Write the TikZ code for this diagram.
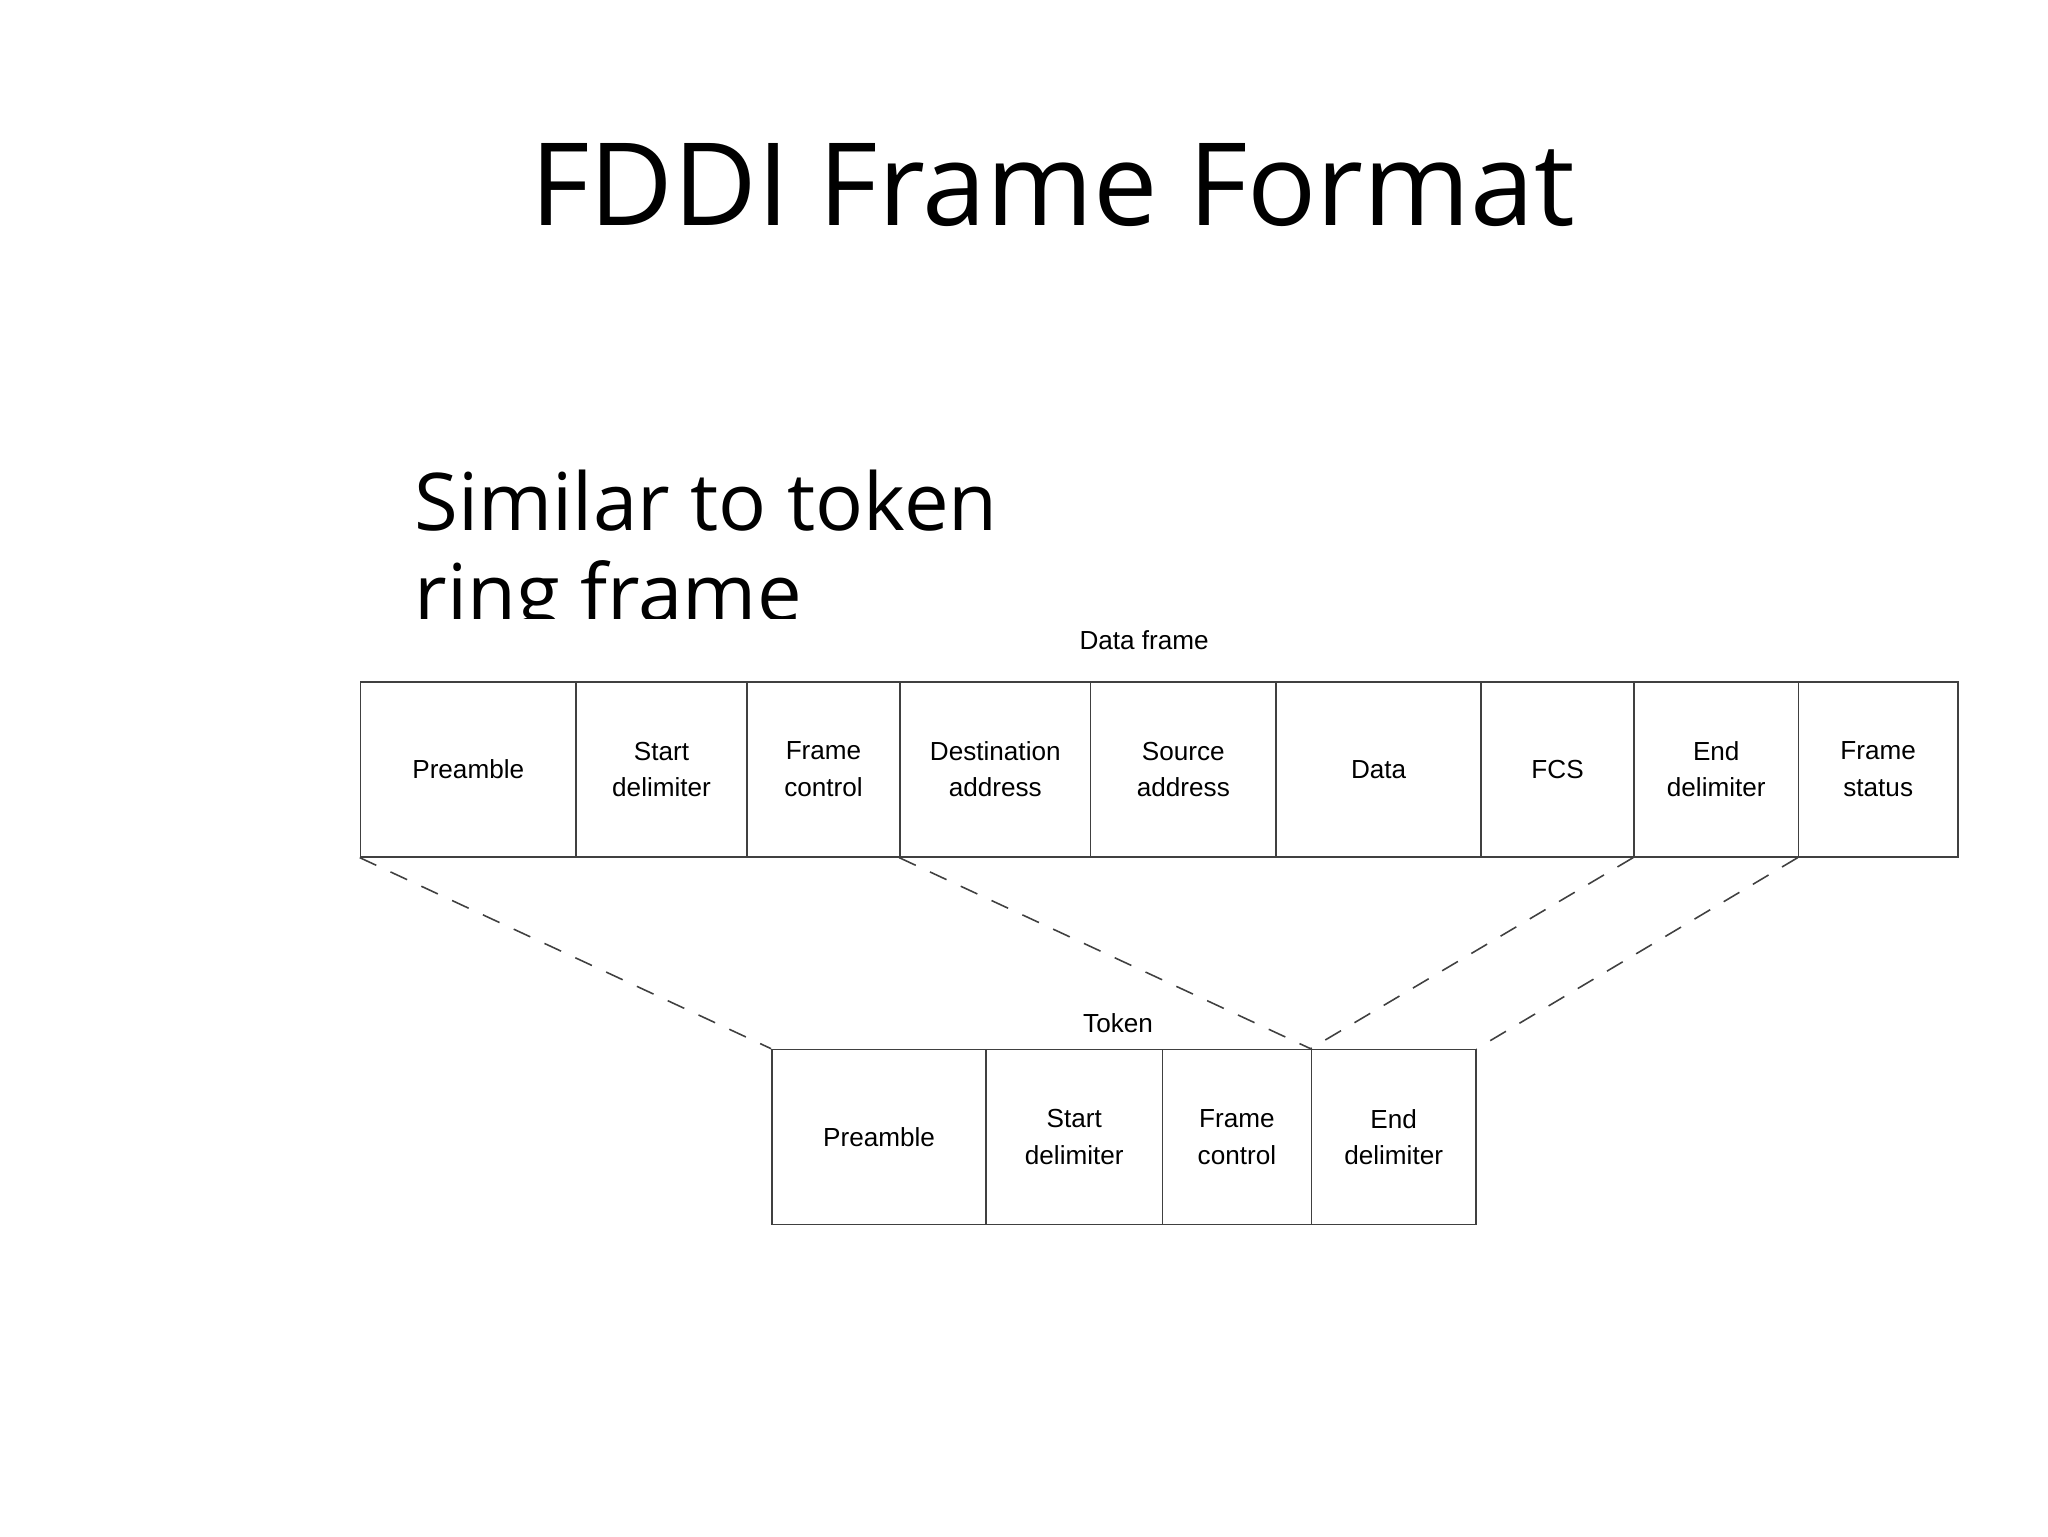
\documentclass[tikz,border=0pt]{standalone}
\usepackage{fontspec}
\setmainfont{Open Sans}
\newfontfamily\diag{Liberation Sans}
\begin{document}
\begin{tikzpicture}[x=1pt,y=-1pt,
  cell/.style={draw=black!75,line width=1.2pt,minimum height=134pt,inner sep=0pt,align=center,font=\diag\fontsize{20}{28}\selectfont},
  link/.style={draw=black!75,line width=1.2pt,dash pattern=on 14pt off 12pt}]
\useasboundingbox (0,0) rectangle (1568,1176);
\node[font=\fontsize{88}{100}\selectfont] (title) at (806,142) {FDDI Frame Format};
\node[anchor=north west,align=left,font=\fontsize{61}{70}\selectfont] (sub) at (314,356) {Similar to token\\ring frame};
\fill[white] (260,474) rectangle (1530,960);
\node[font=\diag\fontsize{20}{24}\selectfont] (dl) at (876,490) {Data frame};
\node[font=\diag\fontsize{20}{24}\selectfont] (tl) at (856,783) {Token};
\foreach \a/\b/\t/\n in {276/441/Preamble/d1,441/572/Start\\delimiter/d2,572/689/Frame\\control/d3,689/835/Destination\\address/d4,835/977/Source\\address/d5,977/1134/Data/d6,1134/1251/FCS/d7,1251/1377/End\\delimiter/d8,1377/1499/Frame\\status/d9}
  \node[cell,minimum width={(\b-\a)*1pt}] (\n) at ({(\a+\b)/2},589) {\t};
\foreach \a/\b/\t/\n in {591/755/Preamble/t1,755/890/Start\\delimiter/t2,890/1004/Frame\\control/t3,1004/1130/End\\delimiter/t4}
  \node[cell,minimum width={(\b-\a)*1pt}] (\n) at ({(\a+\b)/2},870.5) {\t};
\draw[link] (d1.south west) -- (t1.north west);
\draw[link] (d4.south west) -- (t4.north west);
\draw[link] (d8.south west) -- (t4.north west);
\draw[link] (d9.south west) -- (t4.north east);
\end{tikzpicture}
\end{document}
